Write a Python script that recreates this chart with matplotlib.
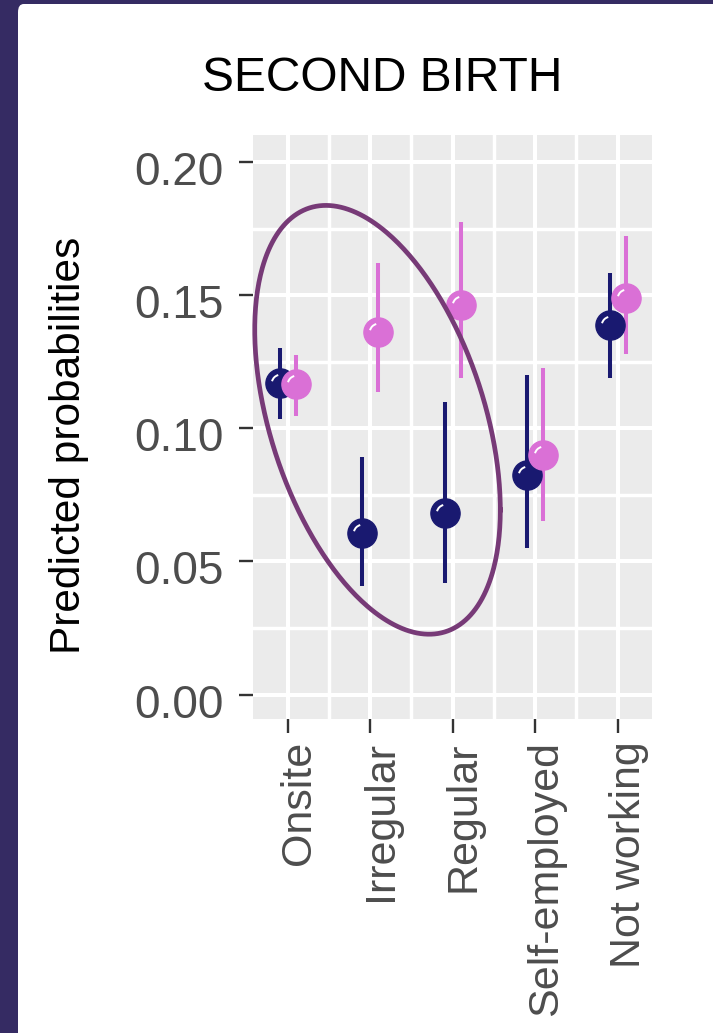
import numpy as np
import matplotlib.pyplot as plt
import matplotlib.transforms as mtransforms
from matplotlib.patches import FancyBboxPatch
from matplotlib.path import Path

plt.rcParams['font.family'] = ['Liberation Sans', 'DejaVu Sans']

# data
categories = ['Onsite', 'Irregular', 'Regular', 'Self-employed', 'Not working']
navy_prob = [0.1169, 0.0605, 0.0683, 0.0825, 0.1388]
navy_low = [0.1034, 0.0408, 0.0420, 0.0550, 0.1189]
navy_high = [0.1300, 0.0893, 0.1098, 0.1200, 0.1583]
pink_prob = [0.1165, 0.1363, 0.1463, 0.0900, 0.1488]
pink_low = [0.1047, 0.1138, 0.1188, 0.0652, 0.1278]
pink_high = [0.1275, 0.1622, 0.1774, 0.1227, 0.1722]
y_ticks = [0.00, 0.05, 0.10, 0.15, 0.20]
y_tick_labels = ['0.00', '0.05', '0.10', '0.15', '0.20']

navy = '#191970'
pink = '#da70d6'
ring = '#773a77'

W, H = 713, 1033
fig = plt.figure(figsize=(W / 100, H / 100), dpi=100)
fig.patch.set_facecolor('#352b63')
fig.patches.append(FancyBboxPatch((18 / W, -0.05), 1.2, 1 - 4 / H + 0.05,
                                  boxstyle='round,pad=0,rounding_size=0.008',
                                  transform=fig.transFigure, facecolor='white',
                                  edgecolor='none', zorder=-10))

ax = fig.add_axes([252.7 / W, 1 - 719 / H, (652 - 252.7) / W, (719 - 135) / H])
ax.set_facecolor('#ebebeb')
ax.set_xlim(0.576, 5.416)
ax.set_ylim(-0.0092, 0.2102)
for s in ax.spines.values():
    s.set_visible(False)

x = np.arange(1, len(categories) + 1)
dodge = 0.095

# grid
for v in x:
    ax.axvline(v, color='white', lw=2.9, zorder=1)
for v in x[:-1] + 0.5:
    ax.axvline(v, color='white', lw=2.5, zorder=1)
for v in y_ticks:
    ax.axhline(v, color='white', lw=2.9, zorder=1)
for v in np.array(y_ticks[:-1]) + 0.025:
    ax.axhline(v, color='white', lw=2.5, zorder=1)

# highlight glint marker (arc inside circle)
arc = Path.arc(105, 165)
glint = Path(np.vstack([[[1.0, 0.0]], arc.vertices * 0.6]),
             np.concatenate([[Path.MOVETO], [Path.MOVETO], arc.codes[1:]]))

for xs, p, lo, hi, col in [(x - dodge, navy_prob, navy_low, navy_high, navy),
                           (x + dodge, pink_prob, pink_low, pink_high, pink)]:
    ax.vlines(xs, lo, hi, color=col, lw=2.9, zorder=3)
    ax.plot(xs, p, 'o', ms=21, color=col, mec=col, zorder=4)
    ax.plot(xs, p, ls='none', marker=glint, ms=21, mfc='none', mec='white',
            mew=1.4, zorder=5)

# ellipse drawn around the first three categories (pixel-space shape)
cx, cy = 2.089, 0.1032
wx, wy, mxy = 122.8, 214.4, 11063.0
L = np.linalg.cholesky(np.array([[wx ** 2, mxy], [mxy, wy ** 2]]))
t = np.linspace(0, 2 * np.pi, 400)
off = L @ np.vstack([np.cos(t), np.sin(t)])
bb = ax.get_position()
px_x = bb.width * W / (ax.get_xlim()[1] - ax.get_xlim()[0])
px_y = bb.height * H / (ax.get_ylim()[1] - ax.get_ylim()[0])
ax.plot(cx + off[0] / px_x, cy - off[1] / px_y, color=ring, lw=3.4, zorder=6,
        clip_on=False)

ax.set_xticks(x)
ax.set_xticklabels(categories, rotation=90, fontsize=31, color='#4d4d4d')
ax.set_yticks(y_ticks)
ax.set_yticklabels(y_tick_labels, fontsize=33, color='#4d4d4d')
ax.tick_params(axis='both', length=10, width=1.7, color='#333333')
ax.tick_params(axis='x', pad=6)
ax.tick_params(axis='y', pad=11)

dx = mtransforms.ScaledTranslation(11 / 100, 0, fig.dpi_scale_trans)
for lab in ax.get_xticklabels():
    lab.set_transform(lab.get_transform() + dx)
dy = mtransforms.ScaledTranslation(0, -6 / 100, fig.dpi_scale_trans)
for lab in ax.get_yticklabels():
    lab.set_transform(lab.get_transform() + dy)

fig.text(69 / W, 1 - 445 / H, 'Predicted probabilities', rotation=90,
         ha='center', va='center', fontsize=30.5, color='black')
fig.text(382 / W, 1 - 91 / H, 'SECOND BIRTH', ha='center', va='baseline',
         fontsize=34.5, color='black')

fig.savefig('out.png', dpi=100)
